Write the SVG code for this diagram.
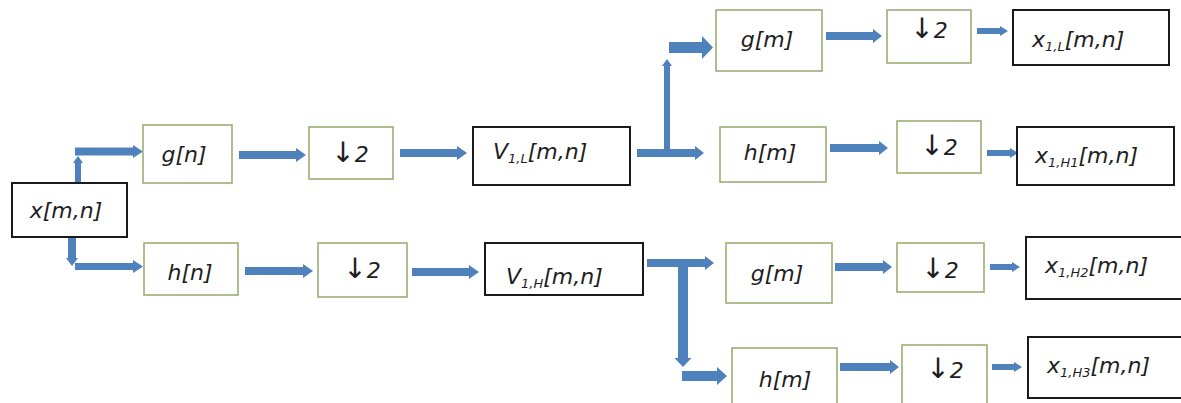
<svg xmlns="http://www.w3.org/2000/svg" width="1181" height="403" viewBox="0 0 1181 403">
<style>
.bk{fill:#fff;stroke:#1a1a1a;stroke-width:2}
.gr{fill:#fff;stroke:#9bae74;stroke-width:1.6}
.t{font-family:"DejaVu Sans","Liberation Sans",sans-serif;font-style:italic;font-size:22px;fill:#1e1e1e}
.m{text-anchor:middle}
.s{font-size:13px}
.u{font-style:normal;font-size:28px}
.arr{fill:#4f81bd}
</style>
<rect width="1181" height="403" fill="#fff"/>
<g id="connectors">
<path class="arr" d="M75,183 L75,163 L73,163 L78,156 L83,163 L81,163 L81,183 Z"/>
<path class="arr" d="M75,147.5 L133,147.5 L133,145 L143,151.5 L133,158 L133,155.5 L75,155.5 Z"/>
<path class="arr" d="M68,237 L76,237 L76,258 L78,258 L72,266 L66,258 L68,258 Z"/>
<path class="arr" d="M75,263 L133,263 L133,260 L143,266.5 L133,273 L133,270 L75,270 Z"/>
<path class="arr" d="M239,151 L296,151 L296,148 L306,155 L296,162 L296,159 L239,159 Z"/>
<path class="arr" d="M400,149 L457,149 L457,146 L467,153 L457,160 L457,157 L400,157 Z"/>
<path class="arr" d="M245,267 L303,267 L303,264 L313,271 L303,278 L303,275 L245,275 Z"/>
<path class="arr" d="M412,268 L469,268 L469,265 L479,272 L469,279 L469,276 L412,276 Z"/>
<path class="arr" d="M637,149 L695,149 L695,146 L704,153 L695,160 L695,157 L637,157 Z"/>
<path class="arr" d="M664,153 L664,66 L662,66 L667,59 L672,66 L670,66 L670,153 Z"/>
<path class="arr" d="M669,42 L702,42 L702,36 L713,47.5 L702,59 L702,53 L669,53 Z"/>
<path class="arr" d="M826,32 L873,32 L873,29 L882,36 L873,43 L873,40 L826,40 Z"/>
<path class="arr" d="M977,28 L1000,28 L1000,26 L1008,31 L1000,36 L1000,34 L977,34 Z"/>
<path class="arr" d="M830,144 L879,144 L879,141 L888,148 L879,155 L879,152 L830,152 Z"/>
<path class="arr" d="M987,150 L1010,150 L1010,148 L1018,153 L1010,158 L1010,156 L987,156 Z"/>
<path class="arr" d="M647,259 L705,259 L705,256 L714,263 L705,270 L705,267 L647,267 Z"/>
<path class="arr" d="M678,263 L688,263 L688,358 L691.5,358 L683,367 L674.5,358 L678,358 Z"/>
<path class="arr" d="M682,371 L717,371 L717,367 L727,376 L717,385 L717,381 L682,381 Z"/>
<path class="arr" d="M835,263 L883,263 L883,260 L892,267 L883,274 L883,271 L835,271 Z"/>
<path class="arr" d="M990,264 L1012,264 L1012,262 L1020,267 L1012,272 L1012,270 L990,270 Z"/>
<path class="arr" d="M840,363 L890,363 L890,360 L899,367 L890,374 L890,371 L840,371 Z"/>
<path class="arr" d="M992,364 L1014,364 L1014,362 L1022,367 L1014,372 L1014,370 L992,370 Z"/>
</g>
<g id="n_x"><rect class="bk" x="12" y="183" width="115" height="54"/><text class="t m" x="66" y="218">x[m,n]</text></g>
<g id="n_gn"><rect class="gr" x="143" y="125" width="89" height="58"/><text class="t m" x="184" y="162">g[n]</text></g>
<g id="n_d1"><rect class="gr" x="309" y="127" width="84" height="52"/><text class="t m" x="350" y="162"><tspan class="u">↓</tspan>2</text></g>
<g id="n_hn"><rect class="gr" x="144" y="243" width="94" height="52"/><text class="t m" x="190" y="280">h[n]</text></g>
<g id="n_d2"><rect class="gr" x="318" y="243" width="89" height="54"/><text class="t m" x="362" y="278"><tspan class="u">↓</tspan>2</text></g>
<g id="n_v1l"><rect class="bk" x="473" y="127" width="157" height="58"/><text class="t" x="493" y="159">V<tspan class="s" dy="4">1,L</tspan><tspan dy="-4">[m,n]</tspan></text></g>
<g id="n_v1h"><rect class="bk" x="485" y="243" width="158" height="52"/><text class="t" x="506" y="284">V<tspan class="s" dy="4">1,H</tspan><tspan dy="-4">[m,n]</tspan></text></g>
<g id="n_gm1"><rect class="gr" x="716" y="10" width="106" height="61"/><text class="t m" x="767" y="47">g[m]</text></g>
<g id="n_hm1"><rect class="gr" x="720" y="127" width="106" height="55"/><text class="t m" x="770" y="160">h[m]</text></g>
<g id="n_d3"><rect class="gr" x="887" y="10" width="84" height="53"/><text class="t m" x="929" y="38"><tspan class="u">↓</tspan>2</text></g>
<g id="n_d4"><rect class="gr" x="897" y="121" width="84" height="52"/><text class="t m" x="939" y="155"><tspan class="u">↓</tspan>2</text></g>
<g id="n_x1l"><rect class="bk" x="1013" y="10" width="156" height="55"/><text class="t" x="1032" y="47">x<tspan class="s" dy="4">1,L</tspan><tspan dy="-4">[m,n]</tspan></text></g>
<g id="n_x1h1"><rect class="bk" x="1017" y="127" width="157" height="58"/><text class="t" x="1035" y="163">x<tspan class="s" dy="4">1,H1</tspan><tspan dy="-4">[m,n]</tspan></text></g>
<g id="n_gm2"><rect class="gr" x="726" y="243" width="106" height="60"/><text class="t m" x="777" y="281">g[m]</text></g>
<g id="n_d5"><rect class="gr" x="897" y="243" width="87" height="49"/><text class="t m" x="940" y="278"><tspan class="u">↓</tspan>2</text></g>
<g id="n_x1h2"><rect class="bk" x="1026" y="237" width="160" height="62"/><text class="t" x="1045" y="273">x<tspan class="s" dy="4">1,H2</tspan><tspan dy="-4">[m,n]</tspan></text></g>
<g id="n_hm2"><rect class="gr" x="732" y="348" width="105" height="58"/><text class="t m" x="785" y="387">h[m]</text></g>
<g id="n_d6"><rect class="gr" x="902" y="345" width="85" height="62"/><text class="t m" x="945" y="378"><tspan class="u">↓</tspan>2</text></g>
<g id="n_x1h3"><rect class="bk" x="1028" y="337" width="160" height="61"/><text class="t" x="1047" y="373">x<tspan class="s" dy="4">1,H3</tspan><tspan dy="-4">[m,n]</tspan></text></g>
</svg>
